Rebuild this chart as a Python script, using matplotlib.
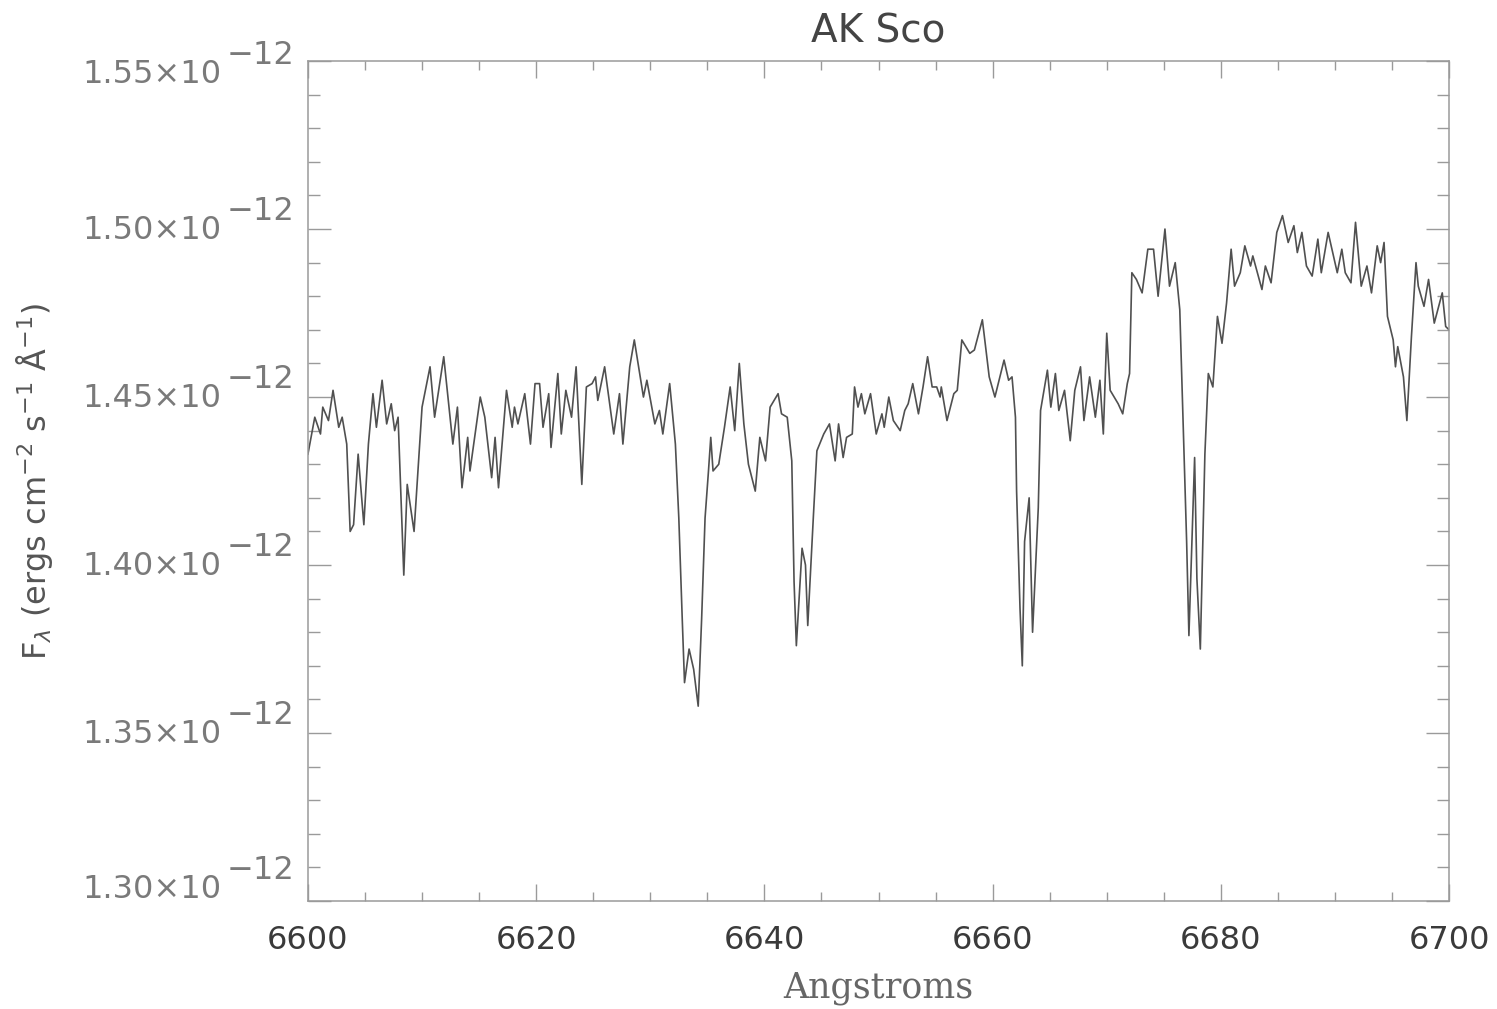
import numpy as np
import matplotlib
matplotlib.use("Agg")
import matplotlib.pyplot as plt
from matplotlib.ticker import MultipleLocator
from matplotlib.transforms import blended_transform_factory

# AK Sco spectrum
wave = [6600.0, 6600.6, 6601.1, 6601.3, 6601.8, 6602.2, 6602.7, 6603.0, 6603.4, 6603.7,
        6604.0, 6604.4, 6604.9, 6605.3, 6605.7, 6606.0, 6606.5, 6606.9, 6607.3, 6607.6,
        6607.9, 6608.4, 6608.7, 6609.3, 6610.0, 6610.7, 6611.1, 6611.9, 6612.7, 6613.1,
        6613.5, 6614.0, 6614.2, 6615.1, 6615.5, 6616.1, 6616.4, 6616.7, 6617.4, 6617.9,
        6618.1, 6618.4, 6619.0, 6619.5, 6619.9, 6620.3, 6620.6, 6621.1, 6621.3, 6621.9,
        6622.2, 6622.6, 6623.1, 6623.5, 6624.0, 6624.4, 6624.9, 6625.2, 6625.4, 6626.0,
        6626.8, 6627.3, 6627.6, 6628.2, 6628.6, 6629.4, 6629.7, 6630.4, 6630.8, 6631.1,
        6631.7, 6632.2, 6632.5, 6632.8, 6633.0, 6633.4, 6633.8, 6634.2, 6634.5, 6634.8,
        6635.1, 6635.3, 6635.5, 6636.0, 6636.5, 6637.0, 6637.4, 6637.8, 6638.2, 6638.6,
        6639.2, 6639.6, 6640.1, 6640.5, 6641.2, 6641.5, 6642.0, 6642.4, 6642.6, 6642.8,
        6643.3, 6643.6, 6643.8, 6644.3, 6644.6, 6645.2, 6645.7, 6646.2, 6646.5, 6646.9,
        6647.2, 6647.7, 6647.9, 6648.2, 6648.5, 6648.8, 6649.3, 6649.8, 6650.3, 6650.5,
        6650.9, 6651.3, 6651.9, 6652.3, 6652.6, 6653.0, 6653.5, 6653.9, 6654.3, 6654.7,
        6655.1, 6655.4, 6655.5, 6656.0, 6656.6, 6656.9, 6657.3, 6658.0, 6658.4, 6659.1,
        6659.7, 6660.2, 6661.0, 6661.4, 6661.7, 6662.0, 6662.1, 6662.4, 6662.6, 6662.8,
        6663.2, 6663.5, 6664.0, 6664.2, 6664.8, 6665.1, 6665.5, 6665.8, 6666.3, 6666.8,
        6667.2, 6667.7, 6668.0, 6668.5, 6669.0, 6669.4, 6669.7, 6670.0, 6670.3, 6671.0,
        6671.4, 6671.8, 6672.0, 6672.2, 6672.6, 6673.1, 6673.6, 6674.1, 6674.5, 6675.1,
        6675.5, 6676.0, 6676.4, 6676.7, 6677.0, 6677.2, 6677.7, 6677.9, 6678.2, 6678.6,
        6678.9, 6679.3, 6679.7, 6680.1, 6680.5, 6680.9, 6681.2, 6681.7, 6682.1, 6682.6,
        6682.8, 6683.6, 6683.9, 6684.4, 6684.9, 6685.4, 6685.9, 6686.4, 6686.7, 6687.1,
        6687.5, 6688.0, 6688.5, 6688.8, 6689.4, 6690.2, 6690.6, 6690.9, 6691.4, 6691.8,
        6692.3, 6692.8, 6693.2, 6693.7, 6694.0, 6694.3, 6694.6, 6695.1, 6695.3, 6695.5,
        6696.0, 6696.3, 6696.7, 6697.1, 6697.3, 6697.8, 6698.2, 6698.7, 6699.4, 6699.7,
        6700.0]

# flux in units of 1e-12 ergs cm^-2 s^-1 A^-1
flux = [1.433, 1.444, 1.439, 1.447, 1.443, 1.452, 1.441, 1.444, 1.436, 1.410,
        1.412, 1.433, 1.412, 1.436, 1.451, 1.441, 1.455, 1.442, 1.448, 1.440,
        1.444, 1.397, 1.424, 1.410, 1.447, 1.459, 1.444, 1.462, 1.436, 1.447,
        1.423, 1.438, 1.428, 1.450, 1.444, 1.426, 1.438, 1.423, 1.452, 1.441,
        1.447, 1.442, 1.451, 1.436, 1.454, 1.454, 1.441, 1.451, 1.435, 1.457,
        1.439, 1.452, 1.444, 1.459, 1.424, 1.453, 1.454, 1.456, 1.449, 1.459,
        1.439, 1.451, 1.436, 1.459, 1.467, 1.450, 1.455, 1.442, 1.446, 1.439,
        1.454, 1.436, 1.414, 1.384, 1.365, 1.375, 1.369, 1.358, 1.384, 1.414,
        1.428, 1.438, 1.428, 1.430, 1.441, 1.453, 1.440, 1.460, 1.442, 1.430,
        1.422, 1.438, 1.431, 1.447, 1.451, 1.445, 1.444, 1.431, 1.395, 1.376,
        1.405, 1.400, 1.382, 1.415, 1.434, 1.439, 1.442, 1.431, 1.442, 1.432,
        1.438, 1.439, 1.453, 1.447, 1.451, 1.445, 1.451, 1.439, 1.445, 1.441,
        1.450, 1.443, 1.440, 1.446, 1.448, 1.454, 1.445, 1.453, 1.462, 1.453,
        1.453, 1.450, 1.453, 1.443, 1.451, 1.452, 1.467, 1.463, 1.464, 1.473,
        1.456, 1.450, 1.461, 1.455, 1.456, 1.444, 1.422, 1.387, 1.370, 1.407,
        1.420, 1.380, 1.417, 1.446, 1.458, 1.447, 1.457, 1.446, 1.452, 1.437,
        1.452, 1.459, 1.443, 1.456, 1.444, 1.455, 1.439, 1.469, 1.452, 1.448,
        1.445, 1.454, 1.457, 1.487, 1.485, 1.481, 1.494, 1.494, 1.480, 1.500,
        1.483, 1.490, 1.476, 1.442, 1.407, 1.379, 1.432, 1.396, 1.375, 1.433,
        1.457, 1.453, 1.474, 1.466, 1.478, 1.494, 1.483, 1.487, 1.495, 1.489,
        1.492, 1.482, 1.489, 1.484, 1.499, 1.504, 1.496, 1.501, 1.493, 1.499,
        1.489, 1.486, 1.497, 1.487, 1.499, 1.487, 1.494, 1.487, 1.484, 1.502,
        1.483, 1.489, 1.481, 1.495, 1.490, 1.496, 1.474, 1.467, 1.459, 1.465,
        1.456, 1.443, 1.468, 1.490, 1.483, 1.477, 1.485, 1.472, 1.481, 1.471,
        1.470]

ytick_vals = [1.30, 1.35, 1.40, 1.45, 1.50, 1.55]
title = "AK Sco"


def main():
    fig = plt.figure(figsize=(14.97, 10.09), dpi=100)
    ax = fig.add_axes([0.2057, 0.1070, 0.7623, 0.8325])

    ax.plot(wave, np.array(flux) * 1e-12, color="#505050", lw=1.2)

    ax.set_xlim(6600, 6700)
    ax.set_ylim(1.30e-12, 1.55e-12)
    ax.xaxis.set_major_locator(MultipleLocator(20))
    ax.xaxis.set_minor_locator(MultipleLocator(5))
    ax.set_yticks([v * 1e-12 for v in ytick_vals])
    ax.yaxis.set_minor_locator(MultipleLocator(0.01e-12))

    ax.tick_params(which="both", direction="in", top=True, right=True,
                   color="#9a9a9a", width=1.0)
    ax.tick_params(axis="x", which="major", length=12.2, pad=17,
                   labelsize=23, labelcolor="#3a3a3a")
    ax.tick_params(axis="x", which="minor", length=6.7)
    ax.tick_params(axis="y", which="major", length=16.6, labelleft=False)
    ax.tick_params(axis="y", which="minor", length=8.6)
    for s in ax.spines.values():
        s.set_color("#9a9a9a")
        s.set_linewidth(1.1)

    # IDL style y labels: 1.45x10^-12 with a full size exponent
    trans = blended_transform_factory(ax.transAxes, ax.transData)
    for v in ytick_vals:
        yl = min(max(v + 0.0025, 1.3064), 1.5488)
        ax.annotate(f"{v:.2f}×10", xy=(0, yl * 1e-12), xycoords=trans,
                    xytext=(-62, -7.0), textcoords="offset points",
                    ha="right", va="center", fontsize=23, color="#7a7a7a",
                    annotation_clip=False)
        ax.annotate("−12", xy=(0, yl * 1e-12), xycoords=trans,
                    xytext=(-9.4, 6.8), textcoords="offset points",
                    ha="right", va="center", fontsize=23, color="#7a7a7a",
                    annotation_clip=False)

    ax.set_title(title, fontsize=28, color="#444444", pad=13)
    ax.set_xlabel("Angstroms", family="DejaVu Serif", fontsize=25,
                  color="#666666", labelpad=11)
    ax.set_ylabel(r"F$_\lambda$ (ergs cm$^{-2}$ s$^{-1}$ Å$^{-1}$)",
                  fontsize=23, color="#555555")
    ax.yaxis.set_label_coords(-0.222, 0.5)

    fig.savefig("out.png", dpi=100)


if __name__ == "__main__":
    main()
